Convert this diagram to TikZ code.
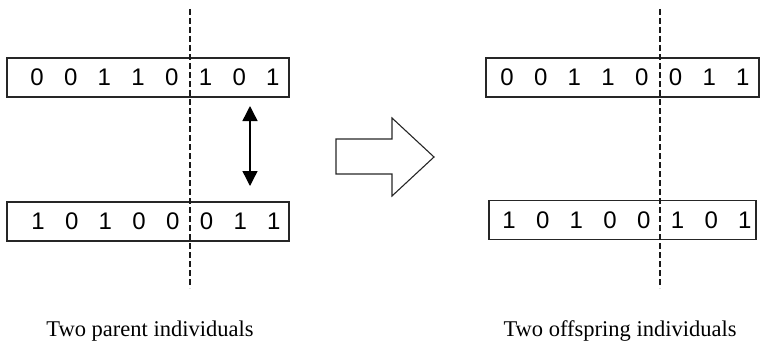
\documentclass[tikz,border=0pt]{standalone}
\usepackage{fontspec}
\setmainfont{Liberation Serif}
\newfontfamily\bitfont{Liberation Sans}
\usetikzlibrary{arrows.meta}

\begin{document}
\begin{tikzpicture}[x=1pt,y=-1pt,
        chrom/.style={draw=black!85,line width=1.1pt,minimum height=39pt,inner sep=0pt},
        bit/.style={inner sep=0pt,font=\bitfont\fontsize{24}{28}\selectfont},
        cut/.style={black!90,line width=1.1pt,dash pattern=on 6pt off 3pt},
        caption/.style={inner sep=0pt,font=\fontsize{22.5}{27}\selectfont}
        ]
        \useasboundingbox (0,0) rectangle (760,345);
        % Parents
        \node[chrom,minimum width=282pt] (parA) at (148,77.5) {};
        \node[chrom,minimum width=282pt] (parB) at (148,221.5) {};
        \foreach \b [count=\i] in {0,0,1,1,0,1,0,1}
            \node[bit] (parA\i) at ({37+33.7*(\i-1)},77.5) {\b};
        \foreach \b [count=\i] in {1,0,1,0,0,0,1,1}
            \node[bit] (parB\i) at ({38+33.7*(\i-1)},221.5) {\b};
        % Offspring
        \node[chrom,minimum width=273pt] (offA) at (622.5,77.5) {};
        \node[chrom,minimum width=267pt] (offB) at (622.5,220) {};
        \foreach \b [count=\i] in {0,0,1,1,0,0,1,1}
            \node[bit] (offA\i) at ({507+33.7*(\i-1)},77.5) {\b};
        \foreach \b [count=\i] in {1,0,1,0,0,1,0,1}
            \node[bit] (offB\i) at ({509+33.7*(\i-1)},220) {\b};
        % Crossover points
        \coordinate (cutL1) at (190,9);
        \coordinate (cutL2) at (190,288);
        \coordinate (cutR1) at (660,9);
        \coordinate (cutR2) at (660,288);
        \draw[cut] (cutL1) -- (cutL2);
        \draw[cut] (cutR1) -- (cutR2);
        % Swap of the tails
        \coordinate (swapT) at (250,106);
        \coordinate (swapB) at (250,186);
        \draw[line width=1.4pt,{Triangle[width=15pt,length=15pt]}-{Triangle[width=15pt,length=15pt]}]
            (swapT) -- (swapB);
        % Big arrow
        \draw[line width=1.1pt,line join=miter,black!85]
            (336,139) -- ++(56,0) -- ++(0,-21) -- (434,157)
            -- (392,196) -- ++(0,-22) -- (336,174) -- cycle;
        % Captions
        \node[caption] (capPar) at (150,331) {Two parent individuals};
        \node[caption] (capOff) at (620,331) {Two offspring individuals};
    \end{tikzpicture}
\end{document}
